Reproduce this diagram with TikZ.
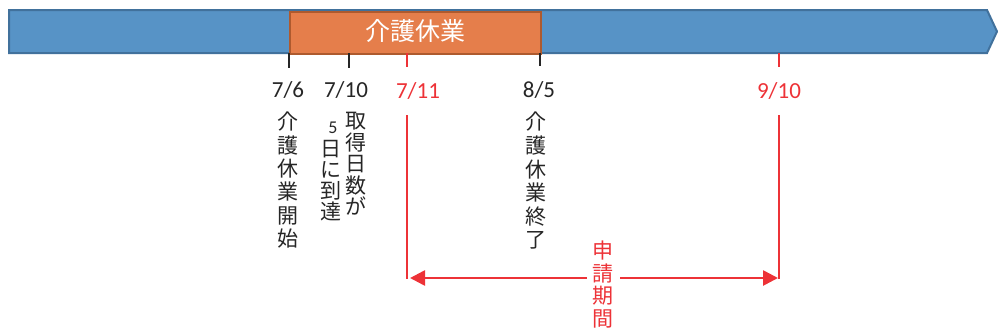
\documentclass[tikz,border=0pt]{standalone}
\usepackage{fontspec}
\setmainfont{Carlito}
\newfontfamily\cjk{Noto Sans CJK JP}
\usetikzlibrary{arrows.meta}
\definecolor{barblue}{RGB}{87,147,198}
\definecolor{barblueline}{RGB}{65,113,156}
\definecolor{barorange}{RGB}{229,126,75}
\definecolor{barorangeline}{RGB}{174,90,46}
\definecolor{txtdark}{RGB}{38,38,38}
\definecolor{redmark}{RGB}{237,50,55}
\tikzset{
  datelbl/.style={font=\fontsize{23}{23}\selectfont, inner sep=0pt, anchor=base},
  vtext/.style={font=\cjk\fontsize{21}{23.3}\selectfont, align=center, inner sep=0pt, anchor=north, text=txtdark},
  blacktick/.style={draw=txtdark, line width=2.6pt},
  redline/.style={draw=redmark, line width=2.6pt},
}
\begin{document}
\begin{tikzpicture}[x=1pt,y=-1pt]
\useasboundingbox (0,0) rectangle (998,333);
% bar
\path[fill=barblue, draw=barblueline, line width=2pt] (9,10) -- (987,10) -- (997,31.5) -- (987,53) -- (9,53) -- cycle;
\node[draw=barorangeline, fill=barorange, line width=2pt, minimum width=251pt, minimum height=42pt, inner sep=0pt, anchor=north west] (care) at (289,10.5) {};
\node[font=\cjk\fontsize{25}{25}\selectfont, text=white, inner sep=0pt] (caretxt) at (415,31) {介護休業};
% tick coordinates
\coordinate (t1a) at (289,53); \coordinate (t1b) at (289,68);
\coordinate (t2a) at (349,53); \coordinate (t2b) at (349,68);
\coordinate (t3a) at (407,53); \coordinate (t3b) at (407,67);
\coordinate (t4a) at (540,53); \coordinate (t4b) at (540,66);
\coordinate (t5a) at (779,53); \coordinate (t5b) at (779,67);
\draw[blacktick] (t1a) -- (t1b);
\draw[blacktick] (t2a) -- (t2b);
\draw[blacktick] (t4a) -- (t4b);
\draw[redline] (t3a) -- (t3b);
\draw[redline] (t5a) -- (t5b);
% date labels
\node[datelbl, text=txtdark] (d1) at (288,97) {7/6};
\node[datelbl, text=txtdark] (d2) at (346,97) {7/10};
\node[datelbl, text=redmark] (d3) at (418,98) {7/11};
\node[datelbl, text=txtdark] (d4) at (539,97) {8/5};
\node[datelbl, text=redmark] (d5) at (779,98) {9/10};
% vertical texts
\node[vtext] (v1) at (288,112) {介\\護\\休\\業\\開\\始};
\node[vtext, font=\cjk\fontsize{21}{21.5}\selectfont] (v2) at (356,112) {取\\得\\日\\数\\が};
\node[text=txtdark, font=\fontsize{18}{18}\selectfont, inner sep=0pt, anchor=base] (v3n) at (333,133) {5};
\node[vtext, font=\cjk\fontsize{21}{21}\selectfont] (v3) at (331,140) {日\\に\\到\\達};
\node[vtext, font=\cjk\fontsize{21}{23.6}\selectfont] (v4) at (536,112) {介\\護\\休\\業\\終\\了};
% application period
\coordinate (l1a) at (407,115); \coordinate (l1b) at (407,279.3);
\coordinate (l2a) at (779,115); \coordinate (l2b) at (779,279.3);
\draw[redline] (l1a) -- (l1b);
\draw[redline] (l2a) -- (l2b);
\coordinate (al) at (410,278);
\coordinate (ar) at (778,278);
\draw[redmark, line width=2.6pt, {Triangle[length=15pt,width=15pt]}-{Triangle[length=15pt,width=15pt]}] (al) -- (ar);
\node[font=\cjk\fontsize{21}{22.5}\selectfont, align=center, text=redmark, fill=white, inner xsep=6pt, inner ysep=0pt, anchor=north] (period) at (603,241) {申\\請\\期\\間};
\end{tikzpicture}
\end{document}
